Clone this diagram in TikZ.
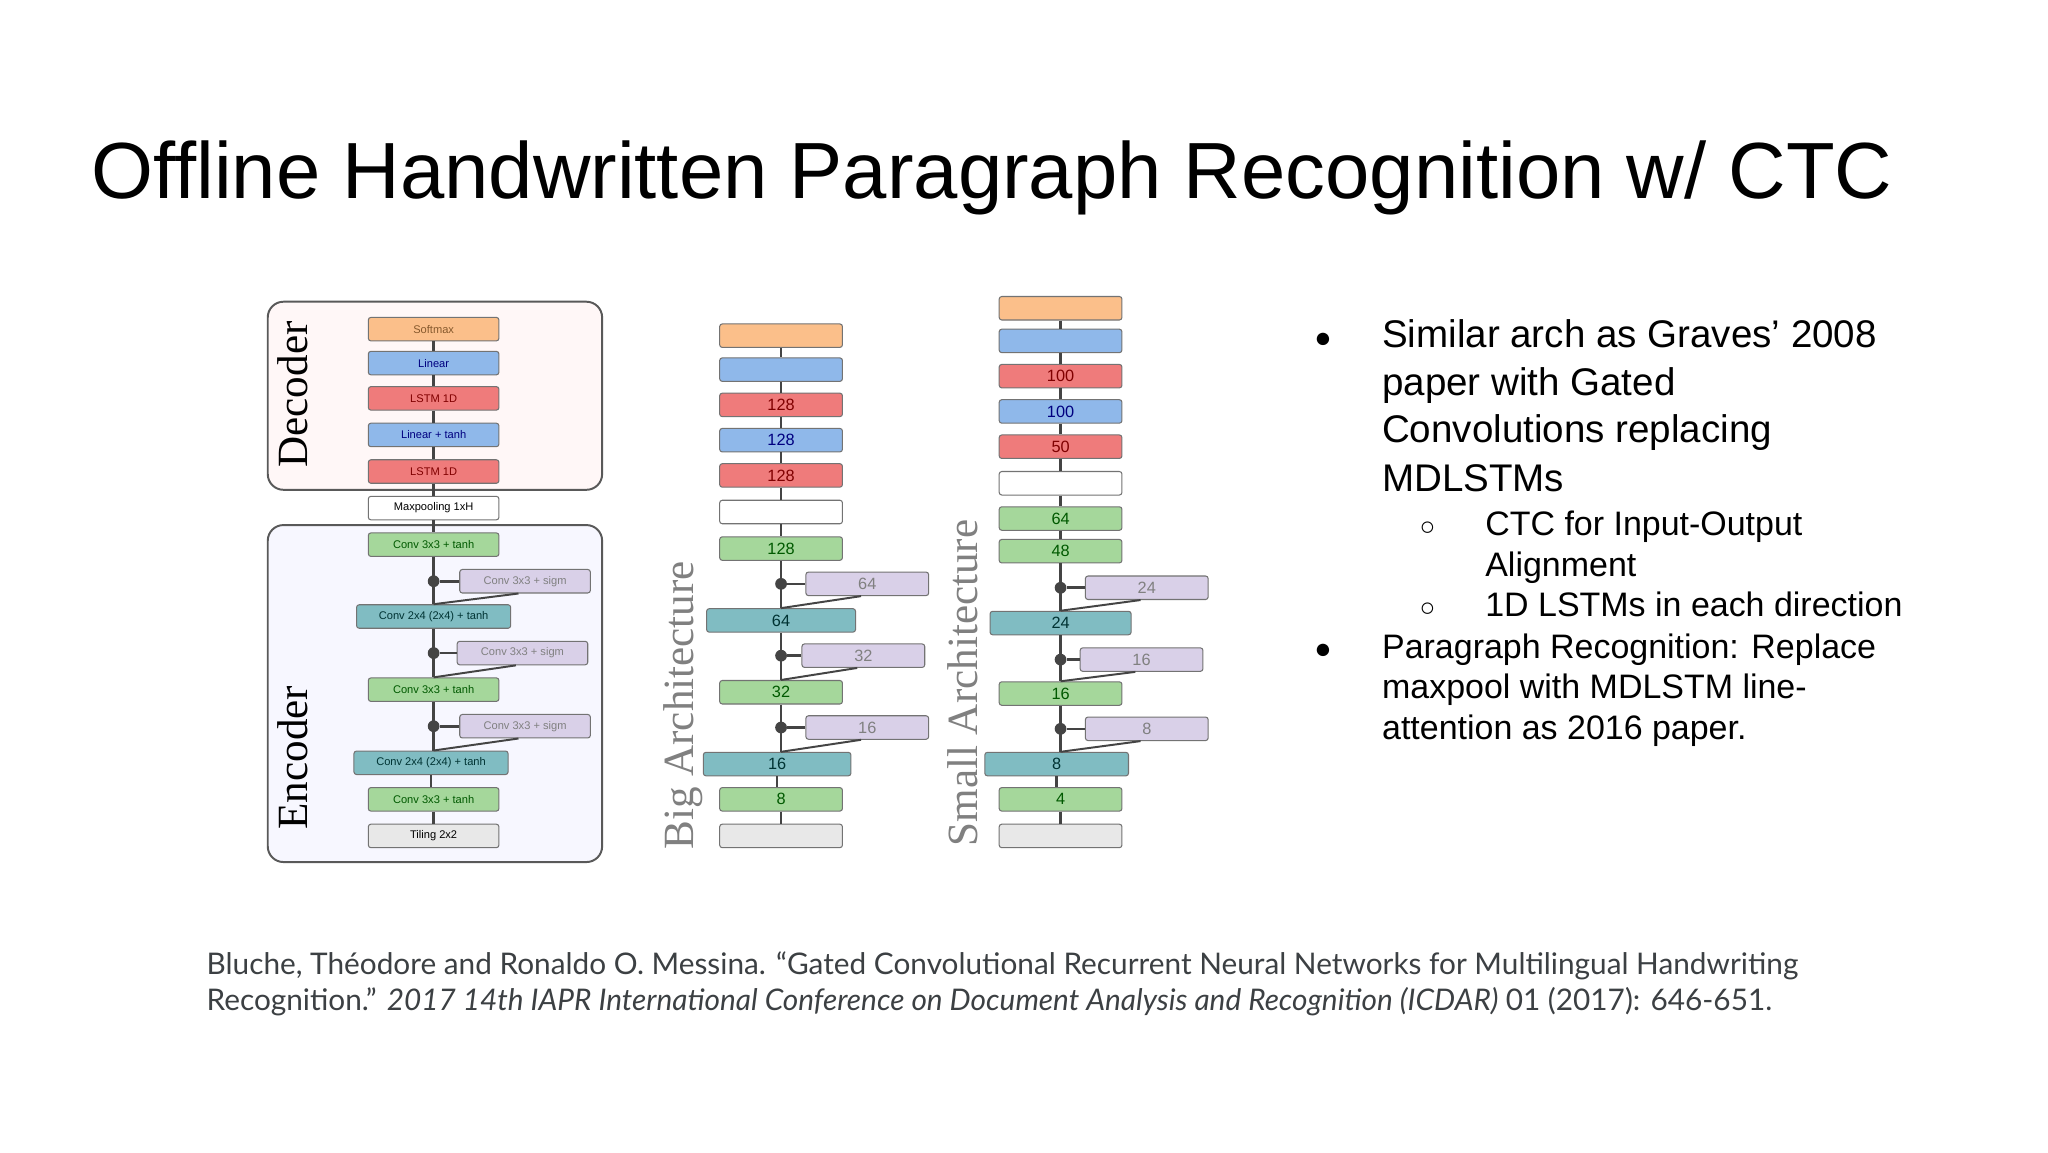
\documentclass[tikz,border=0pt]{standalone}
\usepackage{fontspec}
\setmainfont{Liberation Sans}
\newfontfamily\serif{Liberation Serif}
\newfontfamily\citefont{Lato}
\usetikzlibrary{calc}
\definecolor{cor}{HTML}{FBBF8A}
\definecolor{cbl}{HTML}{8FB8EA}
\definecolor{cre}{HTML}{EF7B7B}
\definecolor{cgr}{HTML}{A5D79B}
\definecolor{cte}{HTML}{80BCC2}
\definecolor{cla}{HTML}{D9D0E8}
\definecolor{cgy}{HTML}{E8E8E8}
\definecolor{ln}{HTML}{444444}
\definecolor{citec}{HTML}{3C4043}
\tikzset{
 blk/.style={draw=black!55, line width=0.8bp, rounded corners=2bp, minimum height=18bp, minimum width=100bp, inner sep=0pt, font=\fontsize{8.5bp}{9bp}\selectfont},
 bigb/.style={blk, minimum width=94bp, font=\fontsize{12.5bp}{12bp}\selectfont},
 wide/.style={minimum width=118bp},
 lnk/.style={ln, line width=2bp},
 dot/.style={circle, fill=ln, inner sep=0pt, minimum size=9bp},
 panel/.style={draw=black!65, line width=1.5bp, rounded corners=12bp},
 vlab/.style={rotate=90, font=\serif\fontsize{33bp}{33bp}\selectfont},
 btxt/.style={anchor=base west, inner sep=0pt, font=\fontsize{29.5bp}{29bp}\selectfont},
 stxt/.style={anchor=base west, inner sep=0pt, font=\fontsize{26bp}{26bp}\selectfont},
}
\begin{document}
\begin{tikzpicture}[x=1bp,y=-1bp]
\useasboundingbox[fill=white] (0,0) rectangle (1568,882);
\node[anchor=base west, font=\fontsize{61bp}{61bp}\selectfont, inner sep=0] (title) at (70,152) {Offline Handwritten Paragraph Recognition w/ CTC};
% panel 1
\draw[panel, fill=red!3] (205,231) rectangle (461,375);
\draw[panel, fill=blue!3] (205,402) rectangle (461,660);
\node[vlab] (dec) at (224,302) {Decoder};
\node[vlab] (enc) at (224,580) {Encoder};
\node[blk, fill=cor, text=brown!70!black] (a1) at (332,252) {Softmax};
\node[blk, fill=cbl, text=blue!50!black] (a2) at (332,278) {Linear};
\node[blk, fill=cre, text=red!50!black] (a3) at (332,305) {LSTM 1D};
\node[blk, fill=cbl, text=blue!50!black] (a4) at (332,333) {Linear + tanh};
\node[blk, fill=cre, text=red!50!black] (a5) at (332,361) {LSTM 1D};
\node[blk, fill=white] (a6) at (332,389) {Maxpooling 1xH};
\node[blk, fill=cgr, text=green!35!black] (a7) at (332,417) {Conv 3x3 + tanh};
\node[blk, fill=cte, text=teal!40!black, wide] (a8) at (332,472) {Conv 2x4 (2x4) + tanh};
\node[blk, fill=cgr, text=green!35!black] (a9) at (332,528) {Conv 3x3 + tanh};
\node[blk, fill=cte, text=teal!40!black, wide] (a10) at (330,584) {Conv 2x4 (2x4) + tanh};
\node[blk, fill=cgr, text=green!35!black] (a11) at (332,612) {Conv 3x3 + tanh};
\node[blk, fill=cgy] (a12) at (332,640) {Tiling 2x2};
\node[blk, fill=cla, text=black!50] (ag1) at (402,445) {Conv 3x3 + sigm};
\node[blk, fill=cla, text=black!50] (ag2) at (400,500) {Conv 3x3 + sigm};
\node[blk, fill=cla, text=black!50] (ag3) at (402,556) {Conv 3x3 + sigm};
% big
\node[vlab, text=black!50] (bl) at (523,540) {Big Architecture};
\node[bigb, fill=cor] (b1) at (598,257) {};
\node[bigb, fill=cbl] (b2) at (598,283) {};
\node[bigb, fill=cre, text=red!50!black] (b3) at (598,310) {128};
\node[bigb, fill=cbl, text=blue!50!black] (b4) at (598,337) {128};
\node[bigb, fill=cre, text=red!50!black] (b5) at (598,364) {128};
\node[bigb, fill=white] (b6) at (598,392) {};
\node[bigb, fill=cgr, text=green!35!black] (b7) at (598,420) {128};
\node[bigb, fill=cte, text=teal!40!black, minimum width=114bp] (b8) at (598,475) {64};
\node[bigb, fill=cgr, text=green!35!black] (b9) at (598,530) {32};
\node[bigb, fill=cte, text=teal!40!black, minimum width=113bp] (b10) at (595,585) {16};
\node[bigb, fill=cgr, text=green!35!black] (b11) at (598,612) {8};
\node[bigb, fill=cgy] (b12) at (598,640) {};
\node[bigb, fill=cla, text=black!50] (bg1) at (664,447) {64};
\node[bigb, fill=cla, text=black!50] (bg2) at (661,502) {32};
\node[bigb, fill=cla, text=black!50] (bg3) at (664,557) {16};
% small
\node[vlab, text=black!50] (sl) at (737,523) {Small Architecture};
\node[bigb, fill=cor] (s1) at (812,236) {};
\node[bigb, fill=cbl] (s2) at (812,261) {};
\node[bigb, fill=cre, text=red!50!black] (s3) at (812,288) {100};
\node[bigb, fill=cbl, text=blue!50!black] (s4) at (812,315) {100};
\node[bigb, fill=cre, text=red!50!black] (s5) at (812,342) {50};
\node[bigb, fill=white] (s6) at (812,370) {};
\node[bigb, fill=cgr, text=green!35!black] (s7) at (812,397) {64};
\node[bigb, fill=cgr, text=green!35!black] (s8) at (812,422) {48};
\node[bigb, fill=cte, text=teal!40!black, minimum width=108bp] (s9) at (812,477) {24};
\node[bigb, fill=cgr, text=green!35!black] (s10) at (812,531) {16};
\node[bigb, fill=cte, text=teal!40!black, minimum width=110bp] (s11) at (809,585) {8};
\node[bigb, fill=cgr, text=green!35!black] (s12) at (812,612) {4};
\node[bigb, fill=cgy] (s13) at (812,640) {};
\node[bigb, fill=cla, text=black!50] (sg1) at (878,450) {24};
\node[bigb, fill=cla, text=black!50] (sg2) at (874,505) {16};
\node[bigb, fill=cla, text=black!50] (sg3) at (878,558) {8};
% connectors
\foreach \u/\v in {a1/a2,a2/a3,a3/a4,a4/a5,a5/a6,a6/a7,a10/a11,a11/a12,
  b1/b2,b2/b3,b3/b4,b4/b5,b5/b6,b6/b7,b10/b11,b11/b12,
  s1/s2,s2/s3,s3/s4,s4/s5,s5/s6,s6/s7,s7/s8,s11/s12,s12/s13}
  \draw[lnk] (\u.south) -- (\u.south |- \v.north);
\foreach \u/\g/\v in {a7/ag1/a8,a8/ag2/a9,a9/ag3/a10,b7/bg1/b8,b8/bg2/b9,b9/bg3/b10,s8/sg1/s9,s9/sg2/s10,s10/sg3/s11}{
  \draw[lnk] (\u.south) -- (\u.south |- \v.north);
  \node[dot] (d\g) at (\u.south |- \g.west) {};
  \draw[lnk] (d\g) -- (\g.west);
  \draw[ln, line width=1.5bp] ($(\g.south west)!0.45!(\g.south east)$) -- (\u.south |- \v.north);
}
% bullets
\node[anchor=base, font=\fontsize{22bp}{22bp}\selectfont] (bu1) at (1013,266) {●};
\node[btxt] (t1) at (1058,266) {Similar arch as Graves’ 2008};
\node[btxt] (t2) at (1058,303) {paper with Gated};
\node[btxt] (t3) at (1058,339) {Convolutions replacing};
\node[btxt] (t4) at (1058,376) {MDLSTMs};
\node[anchor=base, font=\fontsize{20bp}{20bp}\selectfont] (bu2) at (1093,410) {○};
\node[stxt] (u1) at (1137,410) {CTC for Input-Output};
\node[stxt] (u2) at (1137,441) {Alignment};
\node[anchor=base, font=\fontsize{20bp}{20bp}\selectfont] (bu3) at (1093,472) {○};
\node[stxt] (u3) at (1137,472) {1D LSTMs in each direction};
\node[anchor=base, font=\fontsize{22bp}{22bp}\selectfont] (bu4) at (1013,504) {●};
\node[stxt] (v1) at (1058,504) {Paragraph Recognition: Replace};
\node[stxt] (v2) at (1058,535) {maxpool with MDLSTM line-};
\node[stxt] (v3) at (1058,566) {attention as 2016 paper.};
% citation
\node[anchor=base west, text=citec, font=\citefont\fontsize{22.8bp}{22bp}\selectfont, inner sep=0] (c1) at (158,746) {Bluche, Théodore and Ronaldo O. Messina. “Gated Convolutional Recurrent Neural Networks for Multilingual Handwriting};
\node[anchor=base west, text=citec, font=\citefont\fontsize{22.8bp}{22bp}\selectfont, inner sep=0] (c2) at (158,774) {Recognition.” \textit{2017 14th IAPR International Conference on Document Analysis and Recognition (ICDAR)} 01 (2017): 646-651.};
\end{tikzpicture}
\end{document}
